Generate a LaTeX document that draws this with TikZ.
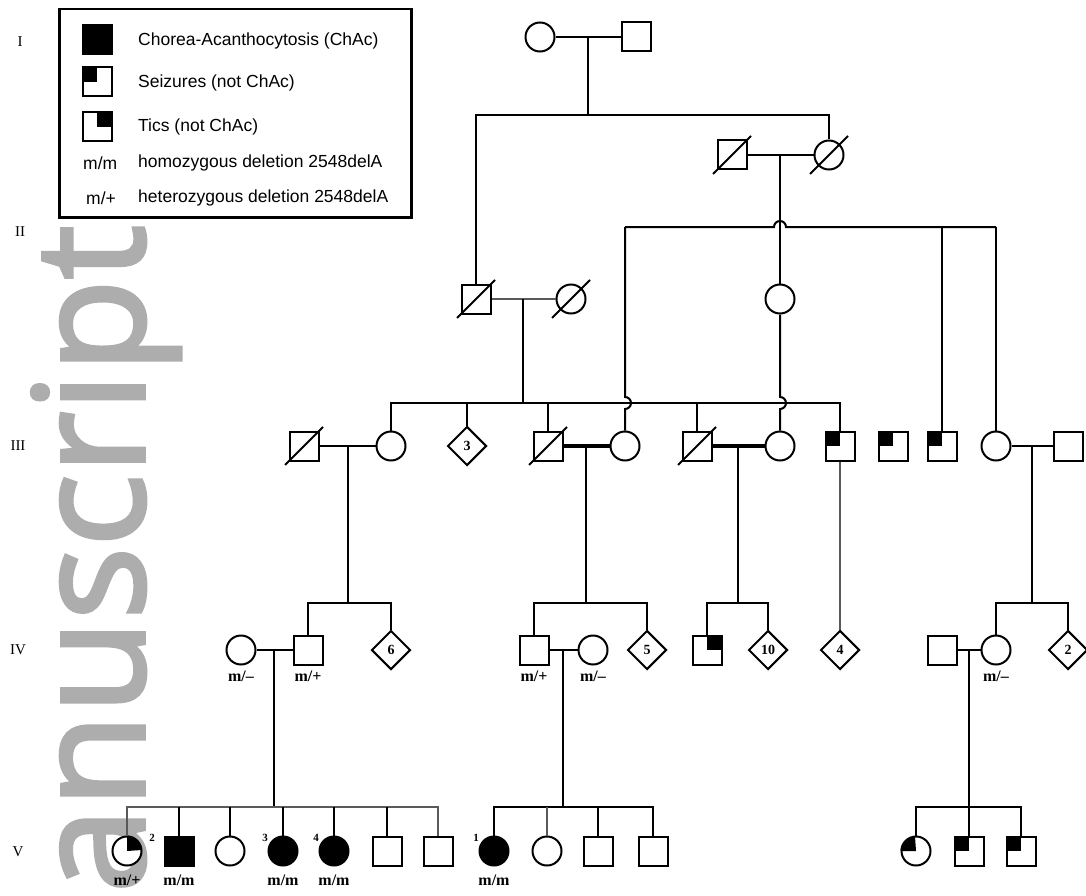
\documentclass[tikz,border=0pt]{standalone}
\usepackage{fontspec}
\setmainfont{Liberation Serif}
\newfontfamily\legfont{Liberation Sans}
\newfontfamily\wmfont[FakeBold=2.5]{Open Sans}
\usetikzlibrary{shapes.geometric,calc}
\newcommand\deceased[1]{\draw[ln] ($(#1.center)+(-19,19)$) -- ($(#1.center)+(19,-19)$);}
\newcommand\sqTL[1]{\fill (#1.north west) rectangle (#1.center);}
\newcommand\sqTR[1]{\fill (#1.north east) rectangle (#1.center);}
\newcommand\ciTL[1]{\fill (#1.center) -- (#1.west) arc[start angle=180,end angle=90,radius=14.5pt] -- cycle;}
\newcommand\ciTR[1]{\fill (#1.center) -- (#1.north) arc[start angle=90,end angle=0,radius=14.5pt] -- cycle;}
\begin{document}
\begin{tikzpicture}[x=1pt,y=-1pt,
  every node/.style={inner sep=0pt},
  ln/.style={line width=2pt,black},
  thinln/.style={line width=1.3pt,black!65},
  thickln/.style={line width=4pt,black},
  male/.style={rectangle,draw,line width=2pt,fill=white,minimum size=29pt},
  female/.style={circle,draw,line width=2pt,fill=white,minimum size=29pt},
  aff/.style={fill=black},
  unk/.style={diamond,draw,line width=2pt,fill=white,minimum size=39pt,font=\fontsize{14}{14}\selectfont\bfseries},
  geno/.style={font=\fontsize{16}{16}\selectfont\bfseries},
  num/.style={font=\fontsize{11}{11}\selectfont\bfseries},
  gen/.style={font=\fontsize{15}{15}\selectfont},
  legtext/.style={font=\legfont\fontsize{17.5}{20}\selectfont,anchor=west},
]
\fill[white] (0,0) rectangle (1086,896);
\useasboundingbox (0,0) rectangle (1086,896);

% watermark
\node[rotate=90,anchor=base east,text=black!32,font=\wmfont\fontsize{153}{153}\selectfont] (wm) at (144,225) {anuscript};

% legend
\node[draw,line width=2.5pt,minimum width=352pt,minimum height=208pt,anchor=north west] (legend) at (58,8) {};
\node[male,aff] (L1) at (97,40) {};
\node[male] (L2) at (97,82) {}; \sqTL{L2}
\node[male] (L3) at (97,127) {}; \sqTR{L3}
\node[legtext] (T1) at (138,41) {Chorea-Acanthocytosis (ChAc)};
\node[legtext] (T2) at (138,83) {Seizures (not ChAc)};
\node[legtext] (T3) at (138,127) {Tics (not ChAc)};
\node[legtext] (K4) at (83,163) {m/m};
\node[legtext] (T4) at (138,163) {homozygous deletion 2548delA};
\node[legtext] (K5) at (86,198) {m/+};
\node[legtext] (T5) at (138,198) {heterozygous deletion 2548delA};

% generation labels
\node[gen] (gI) at (20,42) {I};
\node[gen] (gII) at (20,232) {II};
\node[gen] (gIII) at (18,446) {III};
\node[gen] (gIV) at (18,650) {IV};
\node[gen] (gV) at (18,852) {V};

% ---------- nodes ----------
% generation I
\node[female] (I1) at (540,37) {};
\node[male] (I2) at (636,37) {};
% generation II
\node[male] (IIa1) at (732,155) {}; \deceased{IIa1}
\node[female] (IIa2) at (829,155) {}; \deceased{IIa2}
\node[male] (IIb1) at (476,299) {}; \deceased{IIb1}
\node[female] (IIb2) at (571,299) {}; \deceased{IIb2}
\node[female] (IIc) at (780,299) {};
% generation III
\node[male] (IIIa) at (304,446) {}; \deceased{IIIa}
\node[female] (IIIb) at (391,446) {};
\node[unk] (D3) at (467,446) {3};
\node[male] (IIIc) at (548,446) {}; \deceased{IIIc}
\node[female] (IIId) at (625,446) {};
\node[male] (IIIe) at (697,446) {}; \deceased{IIIe}
\node[female] (IIIf) at (780,446) {};
\node[male] (IIIg) at (840,446) {}; \sqTL{IIIg}
\node[male] (IIIh) at (893,446) {}; \sqTL{IIIh}
\node[male] (IIIi) at (942,446) {}; \sqTL{IIIi}
\node[female] (IIIj) at (996,446) {};
\node[male] (IIIk) at (1068,446) {};
% generation IV
\node[female] (IVa) at (241,650) {};
\node[male] (IVb) at (308,650) {};
\node[unk] (D6) at (391,650) {6};
\node[male] (IVc) at (534,650) {};
\node[female] (IVd) at (593,650) {};
\node[unk] (D5) at (647,650) {5};
\node[male] (IVe) at (707,650) {}; \sqTR{IVe}
\node[unk] (D10) at (768,650) {10};
\node[unk] (D4) at (840,650) {4};
\node[male] (IVf) at (942,650) {};
\node[female] (IVg) at (996,650) {};
\node[unk] (D2) at (1068,650) {2};
% generation V
\node[female] (V1) at (127,851) {}; \ciTR{V1}
\node[male,aff] (V2) at (179,851) {};
\node[female] (V3) at (230,851) {};
\node[female,aff] (V4) at (283,851) {};
\node[female,aff] (V5) at (334,851) {};
\node[male] (V6) at (387,851) {};
\node[male] (V7) at (438,851) {};
\node[female,aff] (V8) at (494,851) {};
\node[female] (V9) at (547,851) {};
\node[male] (V10) at (598,851) {};
\node[male] (V11) at (653,851) {};
\node[female] (V12) at (916,851) {}; \ciTL{V12}
\node[male] (V13) at (969,851) {}; \sqTL{V13}
\node[male] (V14) at (1021,851) {}; \sqTL{V14}

% genotype labels
\node[geno] (gIVa) at (241,676) {m/--};
\node[geno] (gIVb) at (308,676) {m/+};
\node[geno] (gIVc) at (534,676) {m/+};
\node[geno] (gIVd) at (593,676) {m/--};
\node[geno] (gIVg) at (996,676) {m/--};
\node[geno] (gV1) at (127,880) {m/+};
\node[geno] (gV2) at (179,880) {m/m};
\node[geno] (gV4) at (283,880) {m/m};
\node[geno] (gV5) at (334,880) {m/m};
\node[geno] (gV8) at (494,880) {m/m};
\node[num] (n1) at (152,838) {2};
\node[num] (n4) at (265,838) {3};
\node[num] (n5) at (316,838) {4};
\node[num] (n8) at (476,838) {1};

% ---------- connectors ----------
% generation I
\draw[ln] (I1) -- (I2);
\coordinate (mI) at (588,37);
\coordinate (bI) at (588,115);
\coordinate (bIl) at (476,115);
\coordinate (bIr) at (829,115);
\draw[ln] (mI) -- (bI);
\draw[ln] (IIb1) -- (bIl) -- (bIr) -- (IIa2);
% couple IIa
\draw[ln] (IIa1) -- (IIa2);
\coordinate (mIIa) at (780,155);
\draw[ln] (mIIa) -- (IIc);
\coordinate (bIIl) at (625,227);
\coordinate (bIIr) at (996,227);
\coordinate (bIIi) at (942,227);
\draw[ln] (bIIl) -- (774,227) arc[start angle=180,end angle=0,radius=6pt] -- (bIIr);
\draw[ln] (bIIl) -- (625,397) arc[start angle=90,end angle=-90,radius=6pt] -- (IIId);
\draw[ln] (IIc) -- (780,397) arc[start angle=90,end angle=-90,radius=6pt] -- (IIIf);
\draw[ln] (bIIi) -- (IIIi);
\draw[ln] (bIIr) -- (IIIj);
% couple IIb
\draw[thinln] (IIb1) -- (IIb2);
\coordinate (mIIb) at (523,299);
\coordinate (bIII) at (523,403);
\draw[ln] (mIIb) -- (bIII);
\draw[ln] (IIIb) -- (391,403) -- (840,403) -- (IIIg);
\draw[ln] (467,403) -- (D3);
\draw[ln] (548,403) -- (IIIc);
\draw[ln] (697,403) -- (IIIe);
\draw[thinln] (IIIg) -- (D4);
% generation III couples
\draw[ln] (IIIa) -- (IIIb);
\draw[thickln] (IIIc) -- (IIId);
\draw[thickln] (IIIe) -- (IIIf);
\draw[ln] (IIIj) -- (IIIk);
\coordinate (mIIIa) at (348,446);
\coordinate (mIIIc) at (586,446);
\coordinate (mIIIe) at (738,446);
\coordinate (mIIIj) at (1032,446);
\draw[ln] (mIIIa) -- (348,603);
\draw[ln] (mIIIc) -- (586,603);
\draw[ln] (mIIIe) -- (738,603);
\draw[ln] (mIIIj) -- (1032,603);
\draw[ln] (IVb) -- (308,603) -- (391,603) -- (D6);
\draw[ln] (IVc) -- (534,603) -- (647,603) -- (D5);
\draw[ln] (IVe) -- (707,603) -- (768,603) -- (D10);
\draw[ln] (IVg) -- (996,603) -- (1068,603) -- (D2);
% generation IV couples
\draw[ln] (IVa) -- (IVb);
\draw[ln] (IVc) -- (IVd);
\draw[ln] (IVf) -- (IVg);
\coordinate (mIVa) at (274,650);
\coordinate (mIVc) at (563,650);
\coordinate (mIVf) at (969,650);
\draw[ln] (mIVa) -- (274,807);
\draw[ln] (mIVc) -- (563,807);
\draw[ln] (mIVf) -- (V13);
% generation V sibships
\draw[thinln] (V1) -- (127,807) -- (438,807) -- (V7);
\foreach \n/\x in {V2/179,V3/230,V4/283,V5/334,V6/387} \draw[ln] (\x,807) -- (\n);
\draw[ln] (V8) -- (494,807) -- (653,807) -- (V11);
\draw[thinln] (547,807) -- (V9);
\draw[ln] (598,807) -- (V10);
\draw[ln] (V12) -- (916,807) -- (1021,807) -- (V14);
\end{tikzpicture}
\end{document}
